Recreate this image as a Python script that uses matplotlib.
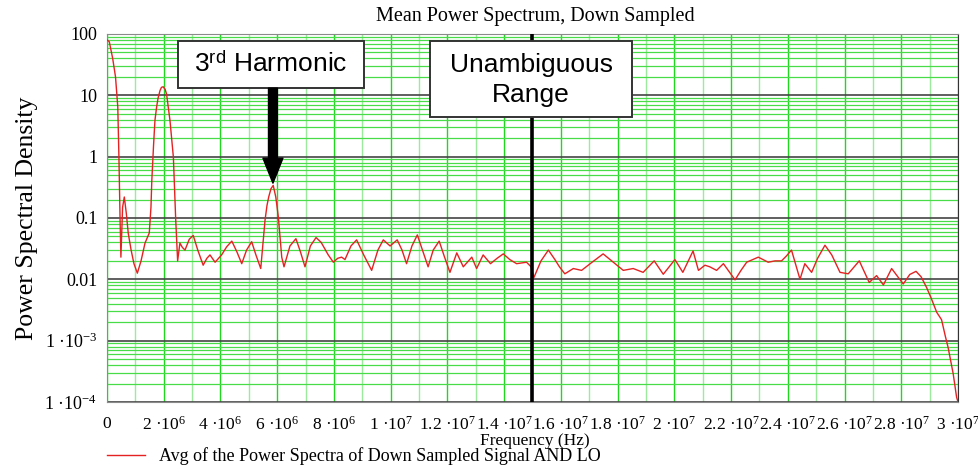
import numpy as np
import matplotlib
matplotlib.use("Agg")
import matplotlib.pyplot as plt
from matplotlib.patches import Rectangle
from matplotlib.ticker import FixedLocator, LogLocator, NullFormatter


# --- Data ---

freq_mhz = [
    0.00, 0.08, 0.20, 0.30, 0.38, 0.42, 0.46, 0.49, 0.55, 0.61, 0.68, 0.75,
    0.85, 0.95, 1.07, 1.20, 1.34, 1.49, 1.55, 1.58, 1.64, 1.69, 1.75, 1.80,
    1.87, 1.92, 1.98, 2.05, 2.10, 2.14, 2.18, 2.22, 2.34, 2.42, 2.49, 2.57,
    2.66, 2.75, 2.90, 3.04, 3.20, 3.39, 3.52, 3.63, 3.81, 4.04, 4.22, 4.40,
    4.58, 4.75, 4.92, 5.10, 5.25, 5.42, 5.50, 5.57, 5.64, 5.70, 5.78, 5.86,
    5.95, 6.04, 6.16, 6.24, 6.45, 6.66, 6.82, 6.98, 7.17, 7.37, 7.55, 7.80,
    7.98, 8.13, 8.27, 8.39, 8.60, 8.80, 9.05, 9.33, 9.55, 9.74, 9.98, 10.23,
    10.40, 10.56, 10.75, 10.94, 11.12, 11.32, 11.50, 11.71, 11.90, 12.09,
    12.33, 12.56, 12.86, 13.03, 13.26, 13.52, 13.75, 13.97, 14.20, 14.44,
    14.79, 14.95, 15.05, 15.30, 15.56, 15.79, 15.95, 16.14, 16.44, 16.73,
    17.10, 17.49, 17.85, 18.20, 18.55, 18.90, 19.29, 19.61, 20.02, 20.30,
    20.66, 20.85, 21.08, 21.25, 21.49, 21.73, 21.95, 22.14, 22.35, 22.55,
    22.96, 23.31, 23.55, 23.78, 23.95, 24.13, 24.30, 24.43, 24.60, 24.84,
    25.05, 25.31, 25.55, 25.84, 26.13, 26.52, 26.87, 27.13, 27.37, 27.66,
    28.07, 28.30, 28.52, 28.70, 28.89, 29.05, 29.25, 29.42, 29.55, 29.65,
    29.83, 29.95, 30.00,
]
psd = [
    80, 75, 40, 20, 6.5, 1.0, 0.1, 0.023, 0.15, 0.22, 0.12, 0.056,
    0.03, 0.018, 0.0126, 0.02, 0.039, 0.057, 0.15, 0.41, 1.5, 3.9, 6.5, 9.0,
    12.0, 13.5, 13.8, 12.5, 10.5, 7.5, 5.5, 3.9, 0.98, 0.10, 0.02, 0.039,
    0.033, 0.03, 0.045, 0.052, 0.03, 0.017, 0.022, 0.025, 0.019, 0.025, 0.034, 0.042,
    0.028, 0.018, 0.03, 0.041, 0.025, 0.015, 0.04, 0.091, 0.16, 0.22, 0.30, 0.34,
    0.22, 0.104, 0.023, 0.016, 0.035, 0.046, 0.028, 0.016, 0.035, 0.048, 0.04, 0.025,
    0.019, 0.022, 0.023, 0.021, 0.035, 0.044, 0.025, 0.014, 0.03, 0.044, 0.035, 0.044,
    0.03, 0.018, 0.035, 0.053, 0.03, 0.016, 0.03, 0.042, 0.023, 0.013,
    0.027, 0.016, 0.023, 0.015, 0.025, 0.018, 0.022, 0.026, 0.021, 0.018,
    0.019, 0.016, 0.0107, 0.02, 0.030, 0.021, 0.016, 0.0123, 0.015, 0.014,
    0.019, 0.026, 0.019, 0.014, 0.015, 0.013, 0.020, 0.0121, 0.021, 0.013,
    0.029, 0.014, 0.017, 0.016, 0.014, 0.018, 0.013, 0.0098, 0.014, 0.019,
    0.023, 0.019, 0.020, 0.020, 0.024, 0.030, 0.016, 0.010, 0.018, 0.013,
    0.022, 0.036, 0.025, 0.013, 0.0123, 0.020, 0.0089, 0.0115, 0.0081, 0.015,
    0.0084, 0.012, 0.0135, 0.011, 0.0074, 0.005, 0.0029, 0.0022, 0.0012, 7.8e-4,
    2.9e-4, 1.2e-4, 1e-4,
]

x_ticks = [0, 2e6, 4e6, 6e6, 8e6, 1e7, 1.2e7, 1.4e7, 1.6e7, 1.8e7,
           2e7, 2.2e7, 2.4e7, 2.6e7, 2.8e7, 3e7]
x_tick_labels = ['0', '2 ·10$^{6}$', '4 ·10$^{6}$', '6 ·10$^{6}$', '8 ·10$^{6}$',
                 '1 ·10$^{7}$', '1.2 ·10$^{7}$', '1.4 ·10$^{7}$', '1.6 ·10$^{7}$',
                 '1.8 ·10$^{7}$', '2 ·10$^{7}$', '2.2 ·10$^{7}$', '2.4 ·10$^{7}$',
                 '2.6 ·10$^{7}$', '2.8 ·10$^{7}$', '3 ·10$^{7}$']
y_ticks = [1e-4, 1e-3, 1e-2, 1e-1, 1, 10, 100]
y_tick_labels = ['1 ·10$^{-4}$', '1 ·10$^{-3}$', '0.01', '0.1', '1', '10', '100']

unambiguous_hz = 1.5e7
harmonic_hz = 5.85e6
harmonic_peak = 0.37


# --- Style ---

plt.rcParams['font.family'] = ['Liberation Serif', 'DejaVu Serif']
plt.rcParams['mathtext.fontset'] = 'custom'
plt.rcParams['mathtext.rm'] = 'Liberation Serif'
plt.rcParams['mathtext.it'] = 'Liberation Serif:italic'
plt.rcParams['mathtext.sf'] = 'Liberation Sans'

GREEN_MAJOR = '#1ed81e'
GREEN_MINOR = '#9ceb9c'
GREEN_HLINE = '#49dc49'


# --- Figure ---

fig = plt.figure(figsize=(9.79, 4.70), dpi=100)
ax = fig.add_axes([107 / 979, 68 / 470, 851 / 979, 368 / 470])

freq_hz = np.array(freq_mhz) * 1e6
ax.plot(freq_hz, psd, color='#e42222', lw=1.0, zorder=3,
        label='Avg of the Power Spectra of Down Sampled Signal AND LO')

ax.set_yscale('log')
ax.set_xlim(0, 3e7)
ax.set_ylim(1e-4, 100)

ax.xaxis.set_major_locator(FixedLocator(x_ticks))
ax.set_xticklabels(x_tick_labels)
ax.xaxis.set_minor_locator(FixedLocator(np.arange(1e6, 3e7, 2e6)))
ax.yaxis.set_major_locator(FixedLocator(y_ticks))
ax.set_yticklabels(y_tick_labels)
ax.yaxis.set_minor_locator(LogLocator(base=10, subs=np.arange(2, 10)))
ax.yaxis.set_minor_formatter(NullFormatter())

ax.tick_params(which='both', length=0)
ax.tick_params(axis='x', labelsize=12.5, pad=10)
ax.tick_params(axis='y', labelsize=13, pad=7)

ax.set_axisbelow(True)
ax.grid(which='major', axis='x', color=GREEN_MAJOR, lw=1.0)
ax.grid(which='minor', axis='x', color=GREEN_MINOR, lw=1.0)
ax.grid(which='minor', axis='y', color=GREEN_HLINE, lw=0.9)
ax.grid(which='major', axis='y', color='#444444', lw=1.2)

for side in ['top', 'bottom', 'left']:
    ax.spines[side].set_color('#8a8a8a')
ax.spines['right'].set_color('#333333')

# unambiguous range marker
ax.axvline(unambiguous_hz, color='black', lw=2.6, zorder=4)

# annotation boxes
ax.add_patch(Rectangle((2.5e6, 13.1), 6.56e6, 76.9 - 13.1, facecolor='white',
                       edgecolor='#333333', lw=1.4, zorder=5))
ax.text(5.78e6, 31.8, '3$^{\\mathsf{rd}}$ Harmonic', family='Liberation Sans',
        fontsize=19, ha='center', va='center', zorder=6)

ax.add_patch(Rectangle((11.39e6, 4.4), 7.12e6, 76.9 - 4.4, facecolor='white',
                       edgecolor='#333333', lw=1.4, zorder=5))
ax.text(14.95e6, 17.5, 'Unambiguous\nRange', family='Liberation Sans',
        fontsize=19, ha='center', va='center', linespacing=1.32, zorder=6)

ax.annotate('', xy=(harmonic_hz, harmonic_peak), xytext=(harmonic_hz, 13.1),
            arrowprops=dict(arrowstyle='simple,head_length=0.9,head_width=0.72,tail_width=0.32',
                            mutation_scale=20, color='black', shrinkA=0, shrinkB=0),
            zorder=6)

# titles and labels
fig.text(535 / 979, 1 - 16 / 470, 'Mean Power Spectrum, Down Sampled',
         ha='center', va='center', fontsize=14.5)
fig.text(27 / 979, 1 - 218 / 470, 'Power Spectral Density', rotation=90,
         ha='center', va='center', fontsize=18.5)
fig.text(535 / 979, 1 - 441 / 470, 'Frequency (Hz)', ha='center', va='center',
         fontsize=12.5)

ax.legend(loc='center left', bbox_to_anchor=(107 / 979, 1 - 456 / 470),
          bbox_transform=fig.transFigure, frameon=False, fontsize=13,
          handlelength=2.1, handletextpad=0.8, borderpad=0, borderaxespad=0)

fig.savefig('out.png', dpi=100)
